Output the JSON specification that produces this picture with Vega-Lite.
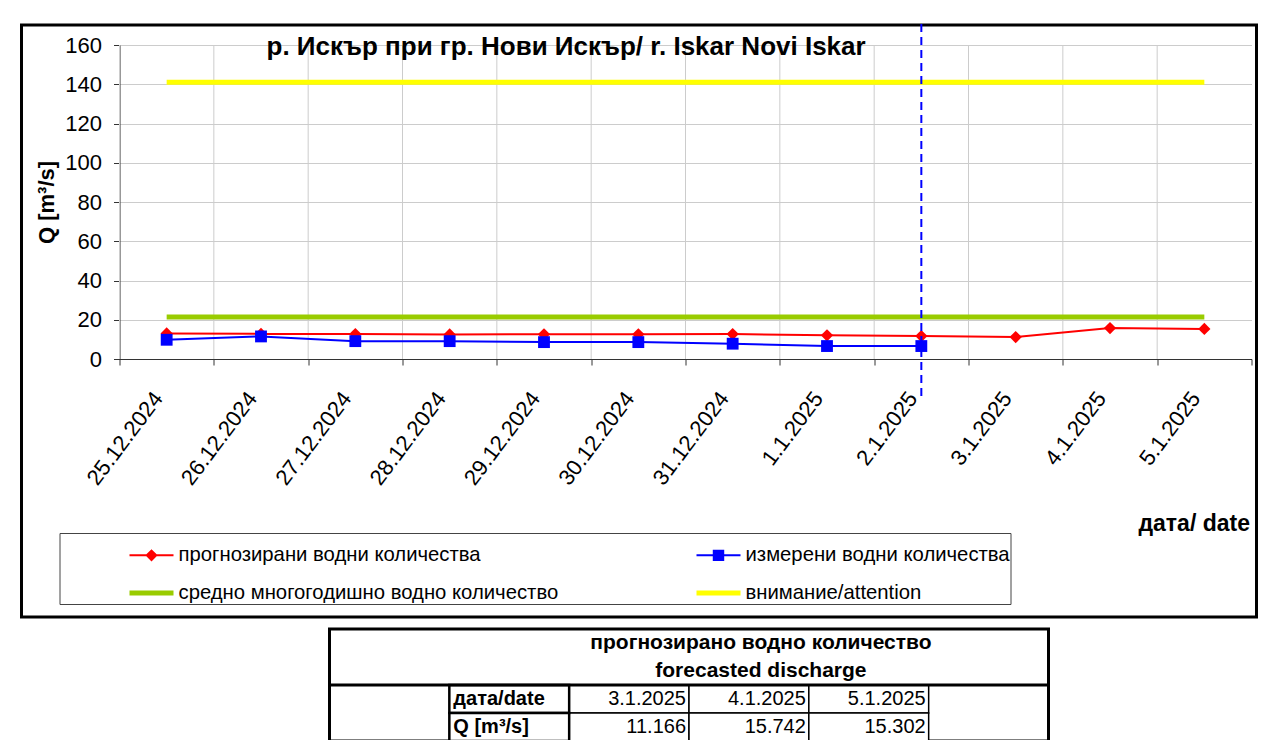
{
  "$schema": "https://vega.github.io/schema/vega-lite/v6.json",
  "background": "white",
  "padding": {"left": 10.5, "top": 21, "right": 0, "bottom": 0},
  "spacing": 8,
  "vconcat": [
    {
      "width": 1235,
      "height": 592,
      "view": {"stroke": "#000000", "strokeWidth": 3},
      "title": {
        "text": "р. Искър при гр. Нови Искър/ r. Iskar Novi Iskar",
        "anchor": "start",
        "frame": "group",
        "dx": 245,
        "dy": 45,
        "offset": -13,
        "baseline": "alphabetic",
        "fontSize": 26,
        "fontWeight": "bold",
        "color": "#000000",
        "font": "Liberation Sans"
      },
      "data": {
        "values": [
          {"date": "25.12.2024", "series": "средно многогодишно водно количество", "Q": 21.4},
          {"date": "26.12.2024", "series": "средно многогодишно водно количество", "Q": 21.4},
          {"date": "27.12.2024", "series": "средно многогодишно водно количество", "Q": 21.4},
          {"date": "28.12.2024", "series": "средно многогодишно водно количество", "Q": 21.4},
          {"date": "29.12.2024", "series": "средно многогодишно водно количество", "Q": 21.4},
          {"date": "30.12.2024", "series": "средно многогодишно водно количество", "Q": 21.4},
          {"date": "31.12.2024", "series": "средно многогодишно водно количество", "Q": 21.4},
          {"date": "1.1.2025", "series": "средно многогодишно водно количество", "Q": 21.4},
          {"date": "2.1.2025", "series": "средно многогодишно водно количество", "Q": 21.4},
          {"date": "3.1.2025", "series": "средно многогодишно водно количество", "Q": 21.4},
          {"date": "4.1.2025", "series": "средно многогодишно водно количество", "Q": 21.4},
          {"date": "5.1.2025", "series": "средно многогодишно водно количество", "Q": 21.4},
          {"date": "25.12.2024", "series": "внимание/attention", "Q": 141},
          {"date": "26.12.2024", "series": "внимание/attention", "Q": 141},
          {"date": "27.12.2024", "series": "внимание/attention", "Q": 141},
          {"date": "28.12.2024", "series": "внимание/attention", "Q": 141},
          {"date": "29.12.2024", "series": "внимание/attention", "Q": 141},
          {"date": "30.12.2024", "series": "внимание/attention", "Q": 141},
          {"date": "31.12.2024", "series": "внимание/attention", "Q": 141},
          {"date": "1.1.2025", "series": "внимание/attention", "Q": 141},
          {"date": "2.1.2025", "series": "внимание/attention", "Q": 141},
          {"date": "3.1.2025", "series": "внимание/attention", "Q": 141},
          {"date": "4.1.2025", "series": "внимание/attention", "Q": 141},
          {"date": "5.1.2025", "series": "внимание/attention", "Q": 141},
          {"date": "25.12.2024", "series": "прогнозирани водни количества", "Q": 13.0},
          {"date": "26.12.2024", "series": "прогнозирани водни количества", "Q": 12.8},
          {"date": "27.12.2024", "series": "прогнозирани водни количества", "Q": 12.7},
          {"date": "28.12.2024", "series": "прогнозирани водни количества", "Q": 12.5},
          {"date": "29.12.2024", "series": "прогнозирани водни количества", "Q": 12.6},
          {"date": "30.12.2024", "series": "прогнозирани водни количества", "Q": 12.6},
          {"date": "31.12.2024", "series": "прогнозирани водни количества", "Q": 12.7},
          {"date": "1.1.2025", "series": "прогнозирани водни количества", "Q": 12.1},
          {"date": "2.1.2025", "series": "прогнозирани водни количества", "Q": 11.7},
          {"date": "3.1.2025", "series": "прогнозирани водни количества", "Q": 11.166},
          {"date": "4.1.2025", "series": "прогнозирани водни количества", "Q": 15.742},
          {"date": "5.1.2025", "series": "прогнозирани водни количества", "Q": 15.302},
          {"date": "25.12.2024", "series": "измерени водни количества", "Q": 9.8},
          {"date": "26.12.2024", "series": "измерени водни количества", "Q": 11.5},
          {"date": "27.12.2024", "series": "измерени водни количества", "Q": 9.1},
          {"date": "28.12.2024", "series": "измерени водни количества", "Q": 9.1},
          {"date": "29.12.2024", "series": "измерени водни количества", "Q": 8.6},
          {"date": "30.12.2024", "series": "измерени водни количества", "Q": 8.6},
          {"date": "31.12.2024", "series": "измерени водни количества", "Q": 7.8},
          {"date": "1.1.2025", "series": "измерени водни количества", "Q": 6.6},
          {"date": "2.1.2025", "series": "измерени водни количества", "Q": 6.6}
        ]
      },
      "layer": [
        {
          "transform": [{"filter": {"field": "series", "equal": "средно многогодишно водно количество"}}],
          "mark": {"type": "rule", "strokeWidth": 1, "color": "#cccccc"},
          "encoding": {
            "x": {"field": "date", "type": "ordinal", "bandPosition": 0},
            "y": {"datum": 0},
            "y2": {"datum": 160}
          }
        },
        {
          "transform": [{"filter": {"field": "series", "oneOf": ["средно многогодишно водно количество", "внимание/attention"]}}],
          "mark": {"type": "line", "strokeWidth": 5},
          "encoding": {
            "x": {
              "field": "date", "type": "ordinal",
              "scale": {"type": "band", "domain": ["25.12.2024","26.12.2024","27.12.2024","28.12.2024","29.12.2024","30.12.2024","31.12.2024","1.1.2025","2.1.2025","3.1.2025","4.1.2025","5.1.2025"], "range": [98, 1230], "paddingInner": 0, "paddingOuter": 0},
              "axis": {
                "offset": -258,
                "title": "дата/ date",
                "titleFontSize": 23, "titleFontWeight": "bold",
                "titleX": 1228, "titleY": 164, "titleAlign": "right", "titleBaseline": "middle", "titleAngle": 0,
                "labelAngle": -53, "labelAlign": "right", "labelBaseline": "middle",
                "labelFontSize": 22, "labelPadding": 29, "labelOffset": -9,
                "tickBand": "extent", "grid": false,
                "tickSize": 6
              }
            },
            "y": {
              "field": "Q", "type": "quantitative",
              "scale": {"domain": [0, 160], "range": [334, 20], "nice": false, "zero": true},
              "axis": {
                "offset": -98,
                "values": [0, 20, 40, 60, 80, 100, 120, 140, 160],
                "labelOverlap": false,
                "title": "Q [m³/s]", "titleFontSize": 22, "titleFontWeight": "bold", "titlePadding": 6,
                "labelFontSize": 22, "labelPadding": 12, "tickSize": 6,
                "grid": true, "gridColor": "#cccccc"
              }
            },
            "color": {
              "field": "series", "type": "nominal",
              "scale": {
                "domain": ["прогнозирани водни количества", "измерени водни количества", "средно многогодишно водно количество", "внимание/attention"],
                "range": ["#FF0000", "#0000FF", "#99CC00", "#FFFF00"]
              },
              "legend": {
                "orient": "none",
                "legendX": 38,
                "legendY": 508,
                "columns": 2,
                "direction": "horizontal",
                "padding": 0,
                "strokeColor": "#444444",
                "fillColor": "white",
                "title": "\u00a0",
                "titleOrient": "left",
                "titleFontSize": 10,
                "titlePadding": 70,
                "labelFontSize": 20.3,
                "labelFont": "Liberation Sans",
                "labelColor": "#000000",
                "labelOffset": 5,
                "labelLimit": 1000,
                "columnPadding": 138,
                "rowPadding": 5,
                "symbolSize": 1936,
                "encode": {
                  "symbols": {
                    "update": {
                      "shape": {"signal": "datum.value === 'прогнозирани водни количества' ? 'M-1,-0.045H1V0.045H-1Z M0,-0.28L0.28,0L0,0.28L-0.28,0Z' : datum.value === 'измерени водни количества' ? 'M-1,-0.045H1V0.045H-1Z M-0.26,-0.26H0.26V0.26H-0.26Z' : 'M-1,-0.115H1V0.115H-1Z'"},
                      "fill": {"signal": "datum.value === 'прогнозирани водни количества' ? '#FF0000' : datum.value === 'измерени водни количества' ? '#0000FF' : datum.value === 'средно многогодишно водно количество' ? '#99CC00' : '#FFFF00'"},
                      "stroke": {"value": "transparent"},
                      "strokeWidth": {"value": 0},
                      "opacity": {"value": 1},
                      "size": {"value": 1936}
                    }
                  }
                }
              }
            },
            "order": {"value": null}
          }
        },
        {
          "transform": [{"filter": {"field": "series", "oneOf": ["прогнозирани водни количества", "измерени водни количества"]}}],
          "mark": {"type": "line", "strokeWidth": 2},
          "encoding": {
            "x": {"field": "date", "type": "ordinal"},
            "y": {"field": "Q", "type": "quantitative"},
            "color": {"field": "series", "type": "nominal"},
            "order": {"value": null}
          }
        },
        {
          "transform": [{"filter": {"field": "series", "equal": "прогнозирани водни количества"}}],
          "mark": {"type": "point", "shape": "diamond", "filled": true, "size": 150, "opacity": 1},
          "encoding": {
            "x": {"field": "date", "type": "ordinal"},
            "y": {"field": "Q", "type": "quantitative"},
            "color": {"field": "series", "type": "nominal"}
          }
        },
        {
          "transform": [{"filter": {"field": "series", "equal": "измерени водни количества"}}],
          "mark": {"type": "point", "shape": "square", "filled": true, "size": 140, "opacity": 1},
          "encoding": {
            "x": {"field": "date", "type": "ordinal"},
            "y": {"field": "Q", "type": "quantitative"},
            "color": {"field": "series", "type": "nominal"}
          }
        },
        {
          "data": {"values": [{"date": "2.1.2025"}]},
          "mark": {"type": "rule", "strokeWidth": 2, "strokeDash": [8, 5]},
          "encoding": {
            "x": {"field": "date", "type": "ordinal"},
            "y": {"datum": 170.7},
            "y2": {"datum": -21},
            "color": {"value": "#0000FF"}
          }
        }
      ]
    },
    {
      "spacing": 0,
      "hconcat": [
        {"width": 304.5, "height": 1, "view": {"stroke": null}, "data": {"values": []}, "mark": "point"},
        {
          "width": 719,
          "height": 112,
          "view": {"stroke": "#000000", "strokeWidth": 3},
          "data": {
            "values": [
              {"row": "h1", "col": "d2", "kind": "header", "text": "прогнозирано водно количество"},
              {"row": "h2", "col": "d2", "kind": "header", "text": "forecasted discharge"},
              {"row": "d", "col": "lab", "kind": "label", "text": "дата/date"},
              {"row": "q", "col": "lab", "kind": "label", "text": "Q [m³/s]"},
              {"row": "d", "col": "d1", "kind": "value", "text": "3.1.2025"},
              {"row": "d", "col": "d2", "kind": "value", "text": "4.1.2025"},
              {"row": "d", "col": "d3", "kind": "value", "text": "5.1.2025"},
              {"row": "q", "col": "d1", "kind": "value", "text": "11.166"},
              {"row": "q", "col": "d2", "kind": "value", "text": "15.742"},
              {"row": "q", "col": "d3", "kind": "value", "text": "15.302"}
            ]
          },
          "layer": [
            {
              "transform": [{"filter": "datum.kind === 'value'"}],
              "mark": {"type": "rect", "fill": "white", "stroke": "#000000", "strokeWidth": 1.5},
              "encoding": {
                "x": {"field": "col", "type": "nominal", "scale": {"type": "band", "domain": ["c0", "lab", "d1", "d2", "d3", "c5"], "paddingInner": 0, "paddingOuter": 0}, "axis": null},
                "y": {"field": "row", "type": "nominal", "scale": {"type": "band", "domain": ["h1", "h2", "d", "q"], "paddingInner": 0, "paddingOuter": 0}, "axis": null}
              }
            },
            {
              "transform": [{"filter": "datum.kind === 'label'"}],
              "mark": {"type": "rect", "fill": "white", "stroke": "#000000", "strokeWidth": 2.5},
              "encoding": {
                "x": {"field": "col", "type": "nominal"},
                "y": {"field": "row", "type": "nominal"}
              }
            },
            {
              "data": {"values": [{"row": "d"}]},
              "mark": {"type": "rule", "strokeWidth": 3, "color": "#000000"},
              "encoding": {
                "y": {"field": "row", "type": "nominal", "bandPosition": 0}
              }
            },
            {
              "transform": [{"filter": "datum.kind === 'header'"}],
              "mark": {"type": "text", "fontSize": 21, "fontWeight": "bold", "align": "center", "baseline": "middle", "dx": 12, "color": "#000000", "font": "Liberation Sans"},
              "encoding": {
                "x": {"field": "col", "type": "nominal"},
                "y": {"field": "row", "type": "nominal"},
                "text": {"field": "text"}
              }
            },
            {
              "transform": [{"filter": "datum.kind === 'label'"}],
              "mark": {"type": "text", "fontSize": 20, "fontWeight": "bold", "align": "left", "baseline": "middle", "dx": 4, "color": "#000000", "font": "Liberation Sans"},
              "encoding": {
                "x": {"field": "col", "type": "nominal", "bandPosition": 0},
                "y": {"field": "row", "type": "nominal"},
                "text": {"field": "text"}
              }
            },
            {
              "transform": [{"filter": "datum.kind === 'value'"}],
              "mark": {"type": "text", "fontSize": 20, "align": "right", "baseline": "middle", "dx": -3, "color": "#000000", "font": "Liberation Sans"},
              "encoding": {
                "x": {"field": "col", "type": "nominal", "bandPosition": 1},
                "y": {"field": "row", "type": "nominal"},
                "text": {"field": "text"}
              }
            }
          ]
        }
      ]
    }
  ],
  "config": {
    "font": "Liberation Sans",
    "view": {"stroke": null},
    "axis": {
      "labelColor": "#000000",
      "titleColor": "#000000",
      "domainColor": "#333333",
      "tickColor": "#333333",
      "labelFont": "Liberation Sans",
      "titleFont": "Liberation Sans"
    }
  }
}
